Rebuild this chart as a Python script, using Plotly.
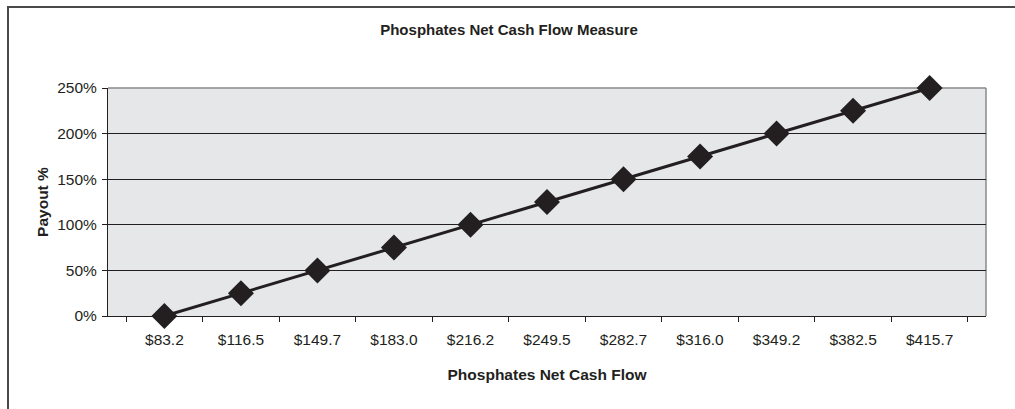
import plotly.graph_objects as go

categories = ["$83.2", "$116.5", "$149.7", "$183.0", "$216.2", "$249.5",
              "$282.7", "$316.0", "$349.2", "$382.5", "$415.7"]
payout = [0.0, 0.25, 0.50, 0.75, 1.00, 1.25, 1.50, 1.75, 2.00, 2.25, 2.50]
y_ticks = [0, 0.5, 1.0, 1.5, 2.0, 2.5]
y_tick_labels = ["0%", "50%", "100%", "150%", "200%", "250%"]

W, H = 1015, 409
L, R, T, B = 108, 29, 88, 93
pw, ph = W - L - R, H - T - B

def px(x):
    return (x - L) / pw

def py(y):
    return (H - B - y) / ph

fig = go.Figure()
fig.add_trace(go.Scatter(
    x=categories, y=payout, mode="lines+markers",
    line=dict(color="#231f20", width=3),
    marker=dict(symbol="diamond", size=20, color="#231f20"),
    cliponaxis=False, showlegend=False,
))

fig.update_layout(
    width=W, height=H,
    margin=dict(l=L, r=R, t=T, b=B),
    paper_bgcolor="white", plot_bgcolor="#e6e7e8",
    font=dict(family="Liberation Sans, Arial, sans-serif", color="#231f20", size=15.5),
    title=dict(text="<b>Phosphates Net Cash Flow Measure</b>", xref="container", x=509 / W,
               xanchor="center", y=1 - 30 / H, yanchor="middle", font=dict(size=15)),
    xaxis=dict(
        type="category", tickson="boundaries", ticks="outside", ticklen=5,
        tickcolor="#231f20", showline=True, linecolor="#231f20", linewidth=1,
        showgrid=False, tickfont=dict(size=15.5), ticklabelstandoff=9,
        title=dict(text="<b>Phosphates Net Cash Flow</b>", font=dict(size=15.5), standoff=22),
    ),
    yaxis=dict(
        range=[0, 2.5], tickvals=y_ticks, ticktext=y_tick_labels,
        ticks="outside", ticklen=5, tickcolor="#231f20",
        showline=True, linecolor="#231f20", linewidth=1,
        showgrid=True, gridcolor="#231f20", gridwidth=1, zeroline=False,
        tickfont=dict(size=15.5), ticklabelstandoff=2,
        title=dict(text="<b>Payout %</b>", font=dict(size=15.5), standoff=4),
    ),
    shapes=[
        dict(type="line", xref="paper", yref="paper", x0=0, x1=1, y0=1, y1=1,
             line=dict(color="#8a8a8a", width=1.5), layer="below"),
        dict(type="line", xref="paper", yref="paper", x0=1, x1=1, y0=0, y1=1,
             line=dict(color="#8a8a8a", width=1.5), layer="below"),
        dict(type="rect", xref="paper", yref="paper",
             x0=px(8), x1=px(1030), y0=py(7), y1=py(430),
             line=dict(color="#4a4a4a", width=2), fillcolor="rgba(0,0,0,0)"),
    ],
)

fig.write_html("out.html", config={"displayModeBar": False},
               post_script="document.body.style.margin='0';")
